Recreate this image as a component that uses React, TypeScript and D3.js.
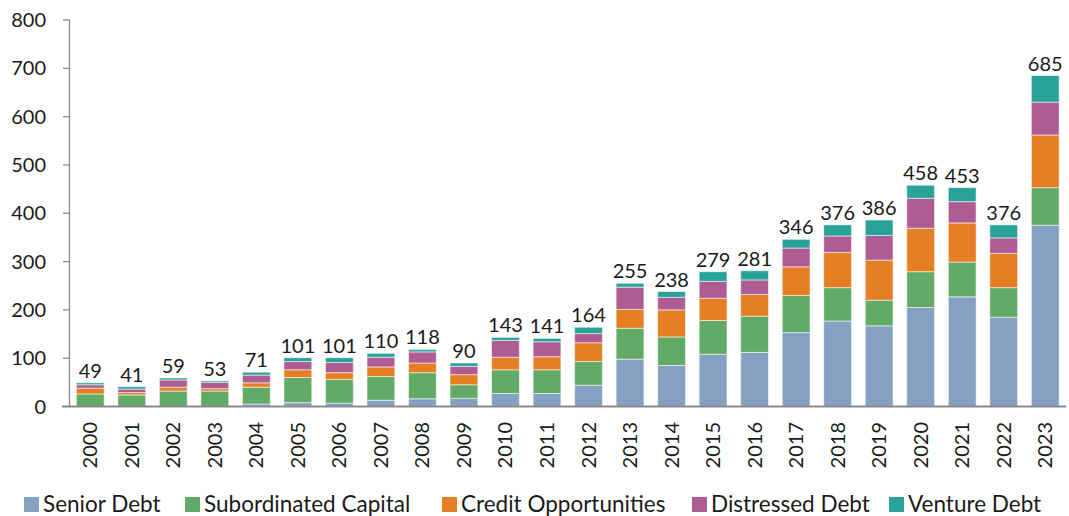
import React from "react";
import * as d3 from "d3";

const years = ["2000","2001","2002","2003","2004","2005","2006","2007","2008","2009","2010","2011","2012","2013","2014","2015","2016","2017","2018","2019","2020","2021","2022","2023"];
const seniorDebt = [0, 0, 0, 0, 5, 8, 7, 13, 16, 17, 27, 27, 44, 98, 85, 108, 112, 153, 177, 167, 205, 227, 185, 375];
const subordinatedCapital = [26, 24, 32, 32, 35, 52, 49, 49, 54, 28, 49, 49, 49, 64, 59, 70, 75, 77, 69, 53, 74, 72, 61, 78];
const creditOpportunities = [12, 5, 8, 5, 9, 16, 14, 20, 20, 21, 26, 27, 39, 39, 56, 46, 45, 59, 73, 83, 90, 81, 71, 109];
const distressedDebt = [7, 7, 15, 13, 16, 17, 21, 20, 23, 17, 35, 31, 19, 46, 26, 35, 30, 39, 34, 51, 62, 44, 32, 68];
const ventureDebt = [4, 5, 4, 3, 6, 8, 10, 8, 5, 7, 6, 7, 13, 8, 12, 20, 19, 18, 23, 32, 27, 29, 27, 55];
const seriesNames = ["Senior Debt", "Subordinated Capital", "Credit Opportunities", "Distressed Debt", "Venture Debt"];
const seriesColors = ["#84A1C4", "#62AB66", "#E67F24", "#B05C94", "#29A39A"];
const yTicks = [0, 100, 200, 300, 400, 500, 600, 700, 800];

const W = 1069;
const H = 516;
const FONT = "Lato, 'Open Sans', sans-serif";

export default function App() {
  const seriesValues = [seniorDebt, subordinatedCapital, creditOpportunities, distressedDebt, ventureDebt];
  const rows = years.map((yr, i) => {
    const r: any = { year: yr };
    seriesNames.forEach((n, k) => (r[n] = seriesValues[k][i]));
    return r;
  });
  const stacked = d3.stack<any>().keys(seriesNames)(rows);
  const x = d3.scaleBand<string>().domain(years).range([69.5, 1066]).paddingInner(0.33).paddingOuter(0.165);
  const y = d3.scaleLinear().domain([0, 800]).range([406.5, 20]);
  const totals = years.map((_, i) => seriesValues.reduce((s, arr) => s + arr[i], 0));
  const legendX = [24, 185, 442, 692, 889];

  return (
    <svg width={W} height={H} style={{ position: "absolute", left: 0, top: 0, background: "#fff" }} fontFamily={FONT}>
      {stacked.map((layer, k) => (
        <g key={k} fill={seriesColors[k]}>
          {layer.map((d, i) => {
            const h = y(d[0]) - y(d[1]);
            if (h <= 0) return null;
            return (
              <rect key={i} x={x(years[i])} y={y(d[1])} width={x.bandwidth()} height={h}
                stroke="rgba(255,255,255,0.55)" strokeWidth={1} />
            );
          })}
        </g>
      ))}
      {/* y axis */}
      <line x1={69.5} x2={69.5} y1={y(800)} y2={y(0)} stroke="#8a8a8a" strokeWidth={1.3} />
      {yTicks.map((t) => (
        <g key={t}>
          <line x1={63} x2={69.5} y1={y(t)} y2={y(t)} stroke="#8a8a8a" strokeWidth={1.3} />
          <text x={46} y={y(t)} dy="0.35em" textAnchor="end" fontSize={20} fill="#1a1a1a">{t}</text>
        </g>
      ))}
      {/* x axis */}
      <line x1={62} x2={1066} y1={y(0)} y2={y(0)} stroke="#8a8a8a" strokeWidth={2} />
      {years.map((yr) => {
        const cx = (x(yr) as number) + x.bandwidth() / 2;
        return (
          <text key={yr} transform={`translate(${cx},${422}) rotate(-90)`} textAnchor="end" dy="0.35em" fontSize={20} fill="#1a1a1a">{yr}</text>
        );
      })}
      {/* totals */}
      {years.map((yr, i) => (
        <text key={yr} x={(x(yr) as number) + x.bandwidth() / 2} y={y(totals[i]) - 5} textAnchor="middle" fontSize={20} fill="#1a1a1a">{totals[i]}</text>
      ))}
      {/* legend */}
      {seriesNames.map((n, k) => (
        <g key={n}>
          <rect x={legendX[k]} y={497} width={15} height={15} fill={seriesColors[k]} />
          <text x={legendX[k] + 19} y={512} fontSize={22.5} fill="#1a1a1a">{n}</text>
        </g>
      ))}
    </svg>
  );
}
